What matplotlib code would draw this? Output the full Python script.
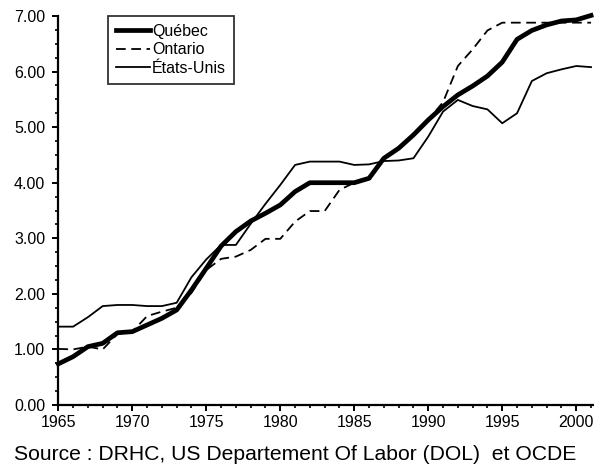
import matplotlib
matplotlib.use("Agg")
import matplotlib.pyplot as plt
from matplotlib.ticker import MultipleLocator, FormatStrFormatter

plt.rcParams['font.family'] = ['Liberation Sans', 'DejaVu Sans']
plt.rcParams['lines.scale_dashes'] = False

# années et séries
annees = list(range(1965, 2002))
quebec = [0.74, 0.87, 1.05, 1.11, 1.30, 1.32, 1.44, 1.56, 1.71, 2.07,
          2.46, 2.86, 3.12, 3.31, 3.45, 3.60, 3.84, 4.00, 4.00, 4.00,
          4.00, 4.08, 4.44, 4.62, 4.86, 5.13, 5.37, 5.58, 5.74, 5.92,
          6.17, 6.58, 6.74, 6.84, 6.91, 6.93, 7.01]
ontario = [1.01, 1.00, 1.05, 1.00, 1.28, 1.32, 1.60, 1.68, 1.75, 2.02,
           2.43, 2.63, 2.67, 2.79, 2.99, 2.99, 3.30, 3.49, 3.49, 3.87,
           4.00, 4.08, 4.44, 4.62, 4.86, 5.13, 5.45, 6.10, 6.40, 6.74,
           6.88, 6.88, 6.88, 6.88, 6.88, 6.88, 6.88]
etats_unis = [1.41, 1.41, 1.58, 1.78, 1.80, 1.80, 1.78, 1.78, 1.84, 2.30,
              2.62, 2.88, 2.88, 3.26, 3.62, 3.96, 4.32, 4.38, 4.38, 4.38,
              4.32, 4.33, 4.39, 4.40, 4.44, 4.83, 5.28, 5.49, 5.38, 5.32,
              5.07, 5.25, 5.83, 5.97, 6.04, 6.10, 6.08]

fig = plt.figure(figsize=(5.94, 4.66), dpi=100)
ax = fig.add_axes([58.3 / 594, 61 / 466, (594 - 58.3) / 594, 389 / 466])

ax.plot(annees, quebec, color='black', lw=3.4, label='Québec',
        solid_joinstyle='round', clip_on=False, zorder=3)
ax.plot(annees, ontario, color='black', lw=1.3, dashes=[7, 4], label='Ontario')
ax.plot(annees, etats_unis, color='black', lw=1.3, label='États-Unis')

ax.set_xlim(1965, 2001.2)
ax.set_ylim(0, 7)
ax.xaxis.set_major_locator(MultipleLocator(5))
ax.xaxis.set_minor_locator(MultipleLocator(1))
ax.yaxis.set_major_locator(MultipleLocator(1))
ax.yaxis.set_minor_locator(MultipleLocator(0.25))
ax.yaxis.set_major_formatter(FormatStrFormatter('%.2f'))

for s in ['top', 'right']:
    ax.spines[s].set_visible(False)
for s in ['left', 'bottom']:
    ax.spines[s].set_linewidth(1.6)

ax.tick_params(which='major', length=4.5, width=1.4, labelsize=11.5,
               direction='out', colors='black')
ax.tick_params(which='minor', length=2.5, width=1.2, direction='out')
ax.tick_params(axis='x', which='major', pad=3)
ax.tick_params(axis='y', which='major', pad=5)

leg = ax.legend(loc='upper left', bbox_to_anchor=((108 - 58.3) / 535.7, 1.0),
                fontsize=11.5, frameon=True, fancybox=False, handlelength=2.1,
                handletextpad=0.15, borderpad=0.5, labelspacing=0.22,
                borderaxespad=0.0)
leg.get_frame().set_edgecolor('black')
leg.get_frame().set_linewidth(1.3)

fig.text(0.497, 6 / 466, 'Source : DRHC, US Departement Of Labor (DOL)  et OCDE',
         ha='center', va='baseline', fontsize=15.2)

fig.savefig('out.png', dpi=100)
